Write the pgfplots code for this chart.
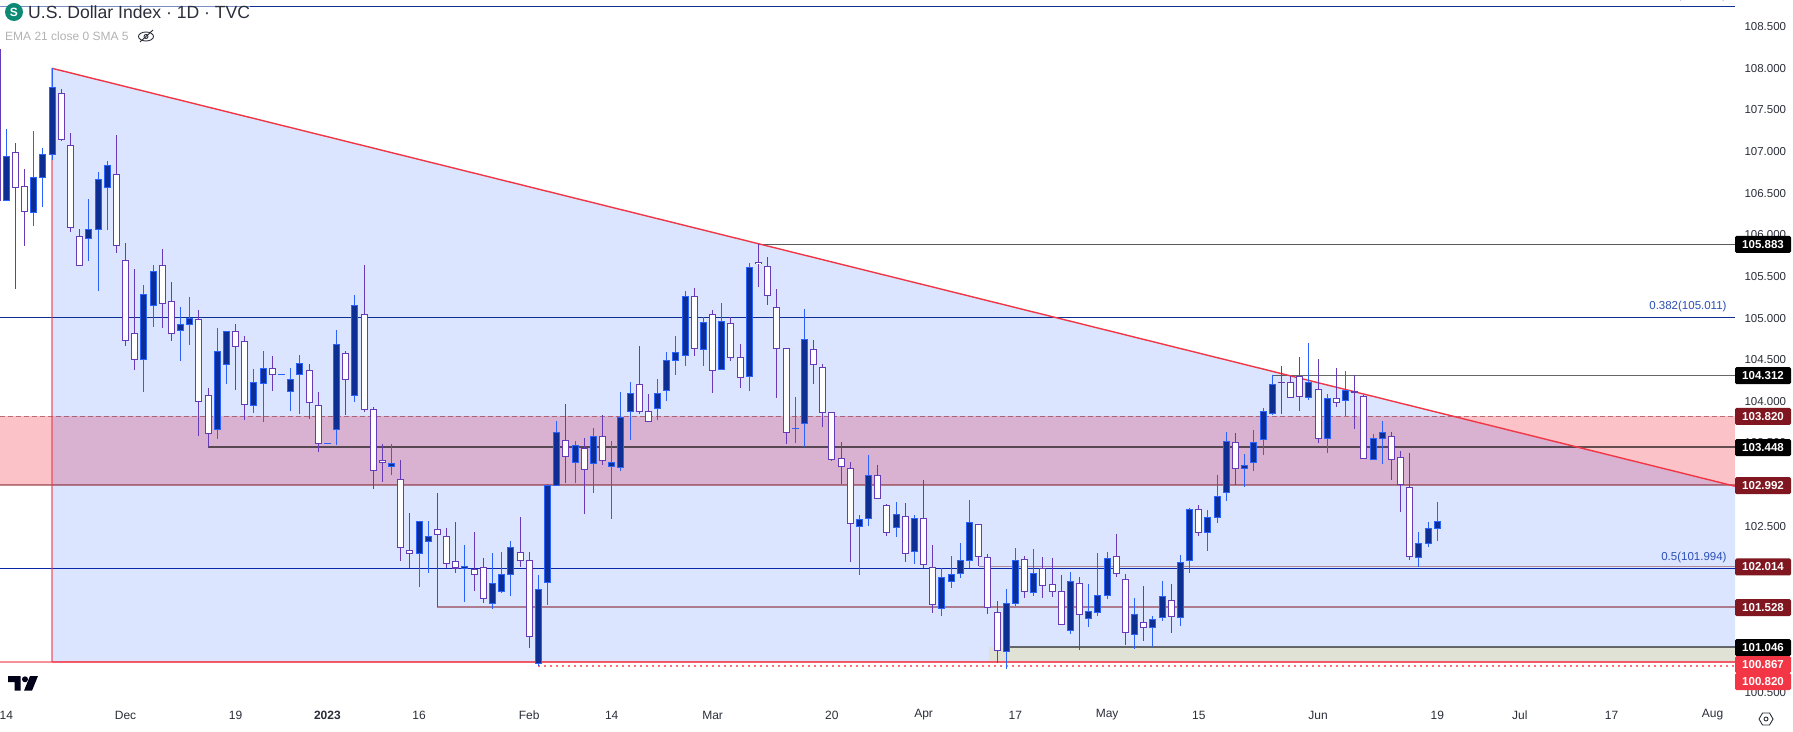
\documentclass[border=0pt]{standalone}
\usepackage{fontspec}
\setmainfont{Liberation Sans}
\usepackage{pgfplots}
\usepackage{pgfplotstable}
\pgfplotsset{compat=1.18}
\definecolor{navy}{HTML}{0D2F94}
\definecolor{upedge}{HTML}{2962FF}
\definecolor{downedge}{HTML}{673AB7}
\definecolor{tvred}{HTML}{F23645}
\definecolor{darkred}{HTML}{7F1620}
\definecolor{fiblabel}{HTML}{2B4FB5}
\definecolor{ink}{HTML}{2A2E39}
\definecolor{band}{HTML}{DFE2D5}

% daily candles, price columns: high, body top, body bottom, low
\pgfplotstableread{
i h t b l
0 107.271 106.947 106.410 106.407
3 107.247 106.691 106.271 106.110
4 107.040 106.968 106.691 106.338
5 108.001 107.772 106.968 106.899
9 106.431 106.067 105.959 105.690
10 106.755 106.667 106.067 105.329
11 106.887 106.835 106.571 106.062
15 105.394 105.286 104.505 104.116
16 105.634 105.562 105.154 104.897
19 105.133 104.926 104.853 104.488
20 105.253 104.998 104.926 104.681
23 104.881 104.601 103.664 103.548
24 104.841 104.841 104.445 104.208
27 104.389 104.229 103.953 103.860
28 104.605 104.397 104.217 103.756
30 104.325 104.325 104.325 104.325
31 104.397 104.265 104.121 103.884
32 104.557 104.457 104.325 103.848
35 103.496 103.496 103.496 103.496
36 104.857 104.685 103.664 103.476
38 105.278 105.154 104.073 103.996
42 103.488 103.256 103.215 103.115
45 102.559 102.559 102.175 101.774
46 102.563 102.379 102.319 101.942
50 102.275 102.019 101.998 101.590
53 102.178 101.814 101.574 101.509
54 102.190 101.923 101.718 101.694
55 102.323 102.247 101.923 101.665
58 101.914 101.742 100.853 100.825
59 103.004 102.992 101.826 101.557
60 103.764 103.628 102.992 102.992
62 103.524 103.472 103.268 103.016
64 103.676 103.580 103.256 102.903
66 103.524 103.268 103.220 102.590
67 104.112 103.808 103.208 103.167
68 104.232 104.097 103.880 103.536
71 104.268 104.097 103.916 103.776
72 104.593 104.493 104.133 104.004
73 104.785 104.589 104.493 104.316
74 105.329 105.262 104.553 104.425
76 105.010 104.949 104.625 104.425
78 105.181 104.961 104.385 104.385
81 105.662 105.610 104.301 104.124
86 104.052 103.676 103.676 103.500
87 105.109 104.745 103.736 103.448
93 102.635 102.583 102.499 101.918
94 103.356 103.112 102.595 102.506
97 102.791 102.643 102.487 102.374
99 102.635 102.595 102.199 102.046
102 101.995 101.886 101.514 101.418
103 102.142 101.923 101.838 101.758
104 102.298 102.091 101.934 101.878
105 102.815 102.547 102.091 101.995
109 101.746 101.574 100.998 100.789
110 102.238 102.091 101.574 101.538
112 102.226 101.934 101.706 101.665
116 101.950 101.838 101.250 101.209
118 101.806 101.478 101.394 101.293
119 102.178 101.670 101.466 101.425
120 102.190 102.115 101.670 101.629
123 101.638 101.442 101.202 101.029
125 101.422 101.382 101.286 101.053
126 101.842 101.658 101.406 101.362
128 102.154 102.067 101.406 101.305
129 102.719 102.703 102.091 101.942
131 102.695 102.607 102.427 102.206
132 103.115 102.859 102.607 102.542
133 103.632 103.520 102.907 102.807
135 103.368 103.232 103.196 102.975
136 103.656 103.508 103.268 103.167
137 103.916 103.880 103.544 103.359
138 104.313 104.205 103.856 103.836
142 104.701 104.229 104.049 104.016
144 104.088 104.037 103.556 103.380
146 104.365 104.133 104.013 103.824
149 103.604 103.556 103.304 103.304
150 103.764 103.628 103.556 103.247
154 102.431 102.295 102.127 102.014
155 102.551 102.475 102.295 102.250
156 102.791 102.559 102.475 102.323
}\upbars

\pgfplotstableread{
i h t b l
-1 108.232 108.232 106.419 106.419
1 107.100 106.992 106.571 105.346
2 106.791 106.583 106.283 105.870
6 107.752 107.700 107.148 107.127
7 107.220 107.076 106.091 106.038
8 106.070 105.983 105.634 105.634
12 107.199 106.727 105.875 105.786
13 105.899 105.694 104.733 104.669
14 105.590 104.817 104.505 104.380
17 105.830 105.634 105.178 104.881
18 105.434 105.202 104.817 104.729
21 105.097 104.986 103.996 103.584
22 104.160 104.073 103.616 103.455
25 104.929 104.841 104.656 104.136
26 104.785 104.721 103.965 103.776
29 104.545 104.397 104.325 104.124
33 104.449 104.373 103.989 103.788
34 104.112 103.953 103.496 103.395
37 104.605 104.577 104.265 103.836
39 105.638 105.046 103.900 103.876
40 103.932 103.905 103.172 102.951
41 103.488 103.292 103.268 103.031
43 103.296 103.064 102.247 102.086
44 102.655 102.211 102.175 101.995
47 102.896 102.463 102.403 101.534
48 102.479 102.379 102.055 101.995
49 102.551 102.074 101.998 101.942
51 102.431 101.983 101.923 101.722
52 102.118 102.007 101.634 101.581
56 102.611 102.187 102.091 102.014
57 102.190 102.091 101.178 101.041
61 103.968 103.532 103.340 103.016
63 103.556 103.436 103.184 102.650
65 103.832 103.580 103.292 103.235
69 104.665 104.205 103.880 103.852
70 104.088 103.880 103.760 103.760
75 105.361 105.262 104.637 104.545
77 105.097 105.046 104.373 104.100
79 105.010 104.937 104.529 104.485
80 104.689 104.529 104.289 104.160
82 105.890 105.670 105.653 105.374
83 105.734 105.622 105.274 105.157
84 105.350 105.130 104.637 104.040
85 104.637 104.637 103.628 103.488
88 104.737 104.625 104.445 104.208
89 104.449 104.409 103.868 103.692
90 103.868 103.868 103.304 103.284
91 103.512 103.316 103.220 103.004
92 103.272 103.196 102.535 102.074
95 103.235 103.112 102.835 102.835
96 102.767 102.751 102.427 102.386
98 102.779 102.619 102.175 102.070
100 103.055 102.595 102.043 101.995
101 102.275 102.007 101.562 101.458
106 102.523 102.523 102.139 102.022
107 102.163 102.127 101.526 101.449
108 101.602 101.466 101.010 100.853
111 102.142 102.103 101.718 101.641
113 102.130 101.995 101.790 101.641
114 102.118 101.802 101.718 101.653
115 101.914 101.718 101.322 101.322
117 101.890 101.814 101.442 101.017
121 102.407 102.139 101.934 101.890
122 101.926 101.862 101.226 101.077
124 101.782 101.346 101.286 101.125
127 101.806 101.610 101.418 101.221
130 102.755 102.703 102.427 102.386
134 103.620 103.508 103.196 102.999
139 104.425 104.229 104.229 103.848
140 104.301 104.229 104.049 104.049
141 104.533 104.301 104.061 103.884
143 104.509 104.145 103.556 103.500
145 104.401 104.037 103.989 103.932
147 104.313 104.121 104.109 103.668
148 104.073 104.061 103.316 103.316
151 103.632 103.580 103.304 103.055
152 103.404 103.328 103.004 102.671
153 103.380 102.968 102.139 102.094
}\downbars

% wick, then body edge, then body fill, all as error bars
\newcommand{\candles}[3]{%
  \addplot[draw=none,no marks,forget plot,
    error bars/.cd,y dir=both,y explicit,error mark=none,
    error bar style={line width=1pt,draw=#2}]
    table[x=i,y=t,y error plus expr=\thisrow{h}-\thisrow{t},
      y error minus expr=\thisrow{t}-\thisrow{l}] {#1};
  \addplot[draw=none,no marks,forget plot,
    error bars/.cd,y dir=both,y explicit,error mark=none,
    error bar style={line width=7pt,draw=#2}]
    table[x=i,y expr=(\thisrow{t}+\thisrow{b})/2,
      y error plus expr=(\thisrow{t}-\thisrow{b})/2+0.007,
      y error minus expr=(\thisrow{t}-\thisrow{b})/2+0.007] {#1};
  \addplot[draw=none,no marks,forget plot,
    error bars/.cd,y dir=both,y explicit,error mark=none,
    error bar style={line width=5pt,draw=#3}]
    table[x=i,y expr=(\thisrow{t}+\thisrow{b})/2,
      y error plus expr={max((\thisrow{t}-\thisrow{b})/2-0.007,0)},
      y error minus expr={max((\thisrow{t}-\thisrow{b})/2-0.007,0)}] {#1};
}
\newcommand{\pricetag}[3]{%
  \node[fill=#3,text=white,rounded corners=1.5pt,minimum width=56pt,minimum height=17pt,
    inner sep=0pt,font=\fontsize{11.5}{12}\selectfont\bfseries] at (1763,#1) {#2};
}

\begin{document}
\begin{tikzpicture}[x=1pt,y=1pt]
\path[use as bounding box] (0,-26) rectangle (1793,705);
\begin{axis}[
  at={(0,0)},anchor=south west,
  scale only axis,width=1735pt,height=705pt,
  xmin=-0.687,xmax=188.45,
  ymin=100.352,ymax=108.821,
  clip=false,
  axis line style={draw=none},
  tick style={draw=none},
  xtick={0,13,25,35,45,57,66,77,90,100,110,120,130,143,156,165,175,186},
  xticklabels={14,Dec,19,\textbf{2023},16,Feb,14,Mar,20,Apr,17,May,15,Jun,19,Jul,17,Aug},
  xticklabel style={font=\fontsize{12}{12}\selectfont,text=ink,anchor=center,yshift=-10pt},
  ytick={100.5,101,...,108.5},
  yticklabel pos=right,
  scaled y ticks=false,
  yticklabel style={font=\fontsize{11.5}{12}\selectfont,text=ink,anchor=west,xshift=6pt,
    /pgf/number format/.cd,fixed,fixed zerofill,precision=3,assume math mode=true},
]
% resistance zone, then the fib box over it
\addplot[fill=tvred,fill opacity=0.3,draw=none,forget plot]
  coordinates {(-0.687,103.82)(188.45,103.82)(188.45,102.992)(-0.687,102.992)} -- cycle;
\addplot[fill=upedge,fill opacity=0.17,draw=none,forget plot]
  coordinates {(5,108)(188.45,102.98)(188.45,100.867)(5,100.867)} -- cycle;
\addplot[fill=band,draw=none,forget plot]
  coordinates {(107.1,101.046)(188.45,101.046)(188.45,100.88)(107.1,100.88)} -- cycle;

% fib levels
\addplot[color=navy!55,line width=1pt,forget plot] coordinates {(-0.687,108.745)(26.6,108.745)};
\addplot[color=navy,line width=1pt,forget plot] coordinates {(26.6,108.745)(188.45,108.745)};
\addplot[color=navy,line width=1pt,forget plot] coordinates {(-0.687,105.011)(188.45,105.011)};
\addplot[color=navy!80!blue,line width=1.1pt,forget plot] coordinates {(-0.687,101.994)(188.45,101.994)};

% horizontal levels
\addplot[color=black,opacity=0.65,line width=1.5pt,forget plot] coordinates {(82,105.883)(188.45,105.883)};
\addplot[color=black,opacity=0.6,line width=1pt,forget plot] coordinates {(138,104.312)(188.45,104.312)};
\addplot[color=black,opacity=0.6,line width=1.6pt,forget plot] coordinates {(22,103.448)(188.45,103.448)};
\addplot[color=darkred,opacity=0.5,line width=1pt,dash pattern=on 5pt off 3pt,forget plot] coordinates {(-0.687,103.82)(188.45,103.82)};
\addplot[color=darkred,opacity=0.5,line width=1.5pt,forget plot] coordinates {(-0.687,102.992)(188.45,102.992)};
\addplot[color=darkred,opacity=0.45,line width=1.5pt,forget plot] coordinates {(106,102.014)(188.45,102.014)};
\addplot[color=darkred,opacity=0.5,line width=1.4pt,forget plot] coordinates {(47,101.528)(188.45,101.528)};
\addplot[color=black,opacity=0.55,line width=1.5pt,forget plot] coordinates {(109,101.046)(188.45,101.046)};
\addplot[color=tvred!55,line width=2.5pt,forget plot] coordinates {(-0.687,100.867)(5,100.867)};
\addplot[color=tvred,opacity=0.8,line width=2.5pt,forget plot] coordinates {(5,100.867)(188.45,100.867)};
\addplot[color=tvred,opacity=0.7,line width=2pt,dash pattern=on 2pt off 4pt,forget plot] coordinates {(58,100.82)(188.45,100.82)};
\addplot[color=tvred,opacity=0.55,line width=1.5pt,forget plot] coordinates {(5,108)(5,100.867)};
% falling trend line
\addplot[color=tvred,line width=1.4pt,forget plot] coordinates {(5,108)(188.45,102.98)};

\candles{\upbars}{upedge}{navy}
\candles{\downbars}{downedge}{white}
\end{axis}

% price tags and header, in image pixels measured from the top of the chart pane
\begin{scope}[shift={(0pt,705pt)},x=1pt,y=-1pt]
\pricetag{244.3}{105.883}{black}
\pricetag{375.7}{104.312}{black}
\pricetag{416.3}{103.820}{darkred}
\pricetag{447.7}{103.448}{black}
\pricetag{485.7}{102.992}{darkred}
\pricetag{567}{102.014}{darkred}
\pricetag{607.7}{101.528}{darkred}
\pricetag{647.7}{101.046}{black}
\pricetag{664.7}{100.867}{tvred}
\pricetag{681.7}{100.820}{tvred}

\node[anchor=east,text=fiblabel,font=\fontsize{11.5}{12}\selectfont,inner sep=0pt] at (1726.7,306.7) {0.382(105.011)};
\node[anchor=east,text=fiblabel,font=\fontsize{11.5}{12}\selectfont,inner sep=0pt] at (1726.7,557.7) {0.5(101.994)};
\node[anchor=east,text=fiblabel,font=\fontsize{11.5}{12}\selectfont,inner sep=0pt] at (1726.7,-4.2) {0.236(108.744)};

\fill[color={rgb,255:red,12;green,138;blue,117}] (14,12) circle (9);
\node[text=white,font=\fontsize{12}{12}\selectfont\bfseries,inner sep=0pt] at (14,12) {S};
\node[anchor=west,text=ink,font=\fontsize{17.6}{18}\selectfont,inner sep=0pt] at (28,12.5) {U.S. Dollar Index · 1D · TVC};
\node[anchor=west,text=black!30,font=\fontsize{12}{12}\selectfont,inner sep=0pt] at (5,36.5) {EMA 21 close 0 SMA 5};
% hidden-indicators eye
\draw[ink,line width=0.9pt] (146,36.5) ellipse (7.5 and 4.5);
\draw[ink,line width=0.9pt] (146,36.5) circle (2);
\draw[ink,line width=0.9pt] (140,42) -- (153,30);

% chart logo
\fill[black!90!blue] (8,676) -- (20.7,676) -- (20.7,690.7) -- (14.7,690.7) -- (14.7,682) -- (8,682) -- cycle;
\fill[black!90!blue] (25,679.3) circle (3);
\fill[black!90!blue] (30,676) -- (38,676) -- (32,690.7) -- (24,690.7) -- cycle;

% settings gear
\draw[ink,line width=0.9pt] (1773,719) -- (1769.5,713) -- (1762.5,713) -- (1759,719) -- (1762.5,725) -- (1769.5,725) -- cycle;
\draw[ink,line width=0.9pt] (1766,719) circle (2);
\end{scope}
\end{tikzpicture}
\end{document}
